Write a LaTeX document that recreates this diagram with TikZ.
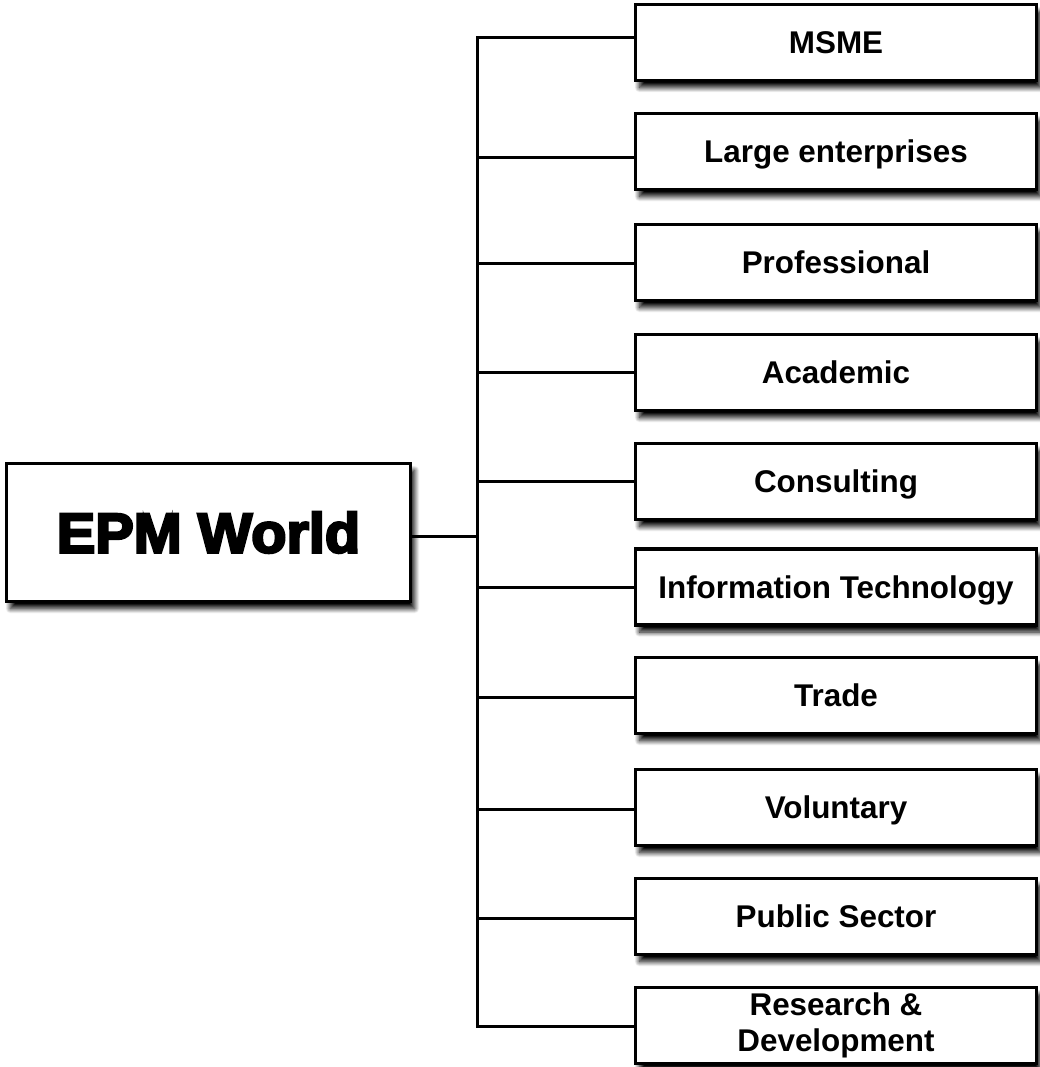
\documentclass[tikz,border=0pt]{standalone}
\usepackage{fontspec}
\setmainfont{Liberation Sans}
\newfontfamily\epmfont[FakeBold=4.5,FakeStretch=1.03]{Liberation Sans Bold}
\usetikzlibrary{shadows.blur}
\tikzset{
  conn/.style={line width=3pt, black},
  boxshadow/.style={blur shadow={shadow xshift=4pt, shadow yshift=-7pt, shadow blur steps=10, shadow blur radius=5pt, shadow opacity=100}},
  basebox/.style={draw=black, line width=3.3pt, fill=white, boxshadow, minimum width=401pt, minimum height=76pt, inner sep=0pt, align=center, font=\fontsize{31.4}{36.5}\selectfont\bfseries},
  catbox/.style={basebox, text height=22.5pt, text depth=0pt},
  rootbox/.style={draw=black, line width=3.3pt, fill=white, boxshadow, minimum width=404pt, minimum height=138pt, inner sep=0pt, text height=40pt, text depth=0pt, font=\fontsize{56}{60}\selectfont\epmfont}
}
\begin{document}
\begin{tikzpicture}[x=1pt,y=-1pt]
\useasboundingbox (0,0) rectangle (1040,1067);
% root
\node[rootbox] (epm) at (208.5,532.5) {EPM World};
% categories
\node[catbox] (m1)  at (836,42.5)   {MSME};
\node[catbox] (m2)  at (836,151.5)  {Large enterprises};
\node[catbox] (m3)  at (836,262.5)  {Professional};
\node[catbox] (m4)  at (836,372.5)  {Academic};
\node[catbox] (m5)  at (836,481.5)  {Consulting};
\node[catbox] (m6)  at (836,587)    {Information Technology};
\node[catbox] (m7)  at (836,695.5)  {Trade};
\node[catbox] (m8)  at (836,807.5)  {Voluntary};
\node[catbox] (m9)  at (836,916.5)  {Public Sector};
\node[basebox] (m10) at (836,1025.5) {\raisebox{-3pt}{\parbox{380pt}{\centering Research \&\\Development}}};
% bus coordinates
\coordinate (b1)  at (477,38);
\coordinate (b2)  at (477,158);
\coordinate (b3)  at (477,263);
\coordinate (b4)  at (477,372);
\coordinate (b5)  at (477,481);
\coordinate (b6)  at (477,587);
\coordinate (b7)  at (477,697);
\coordinate (b8)  at (477,809);
\coordinate (b9)  at (477,918);
\coordinate (b10) at (477,1026);
\coordinate (be)  at (477,536);
% connectors
\draw[conn, line cap=rect] (b1) -- (b10);
\draw[conn] (epm.east |- be) -- (be);
\foreach \i in {1,...,10} {
  \draw[conn] (b\i) -- (b\i -| m\i.west);
}
\end{tikzpicture}
\end{document}
